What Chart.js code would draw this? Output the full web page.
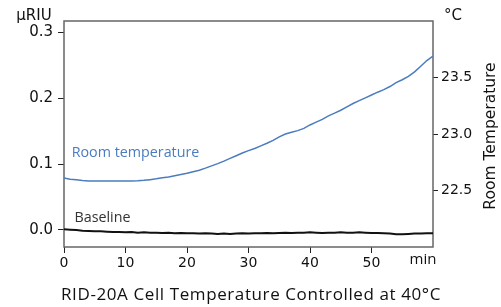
<!DOCTYPE html>
<html>
<head>
<meta charset="utf-8">
<script src="https://cdn.jsdelivr.net/npm/chart.js@4/dist/chart.umd.min.js"></script>
<style>
  html, body { margin: 0; padding: 0; background: #fff; }
  #wrap { width: 501px; height: 307px; }
</style>
</head>
<body>
<div id="wrap"><canvas id="mychart" width="501" height="307"></canvas></div>
<script>
// time in minutes
const minutes = [0,1,2,3,4,5,6,7,8,9,10,11,12,13,14,15,16,17,18,19,20,
  21,22,23,24,25,26,27,28,29,30,31,32,33,34,35,36,37,38,39,40,
  41,42,43,44,45,46,47,48,49,50,51,52,53,54,55,56,57,58,59,60]

// baseline signal, µRIU
const baseline = [0.001,0.0005,0.000,-0.001,-0.0015,-0.002,-0.002,-0.0025,-0.003,-0.003,-0.0035,
  -0.003,-0.004,-0.0035,-0.004,-0.004,-0.0045,-0.004,-0.005,-0.0045,-0.005,
  -0.005,-0.0055,-0.005,-0.0055,-0.006,-0.0055,-0.006,-0.0055,-0.005,-0.0055,
  -0.005,-0.005,-0.0045,-0.005,-0.0045,-0.004,-0.0045,-0.004,-0.004,-0.0035,
  -0.004,-0.0045,-0.004,-0.004,-0.0035,-0.004,-0.004,-0.0035,-0.004,-0.0045,
  -0.0045,-0.005,-0.0055,-0.0065,-0.0065,-0.006,-0.0055,-0.0055,-0.005,-0.005]

// room temperature, °C
const roomTemp = [22.61,22.60,22.595,22.588,22.585,22.584,22.583,22.583,22.583,22.583,22.584,
  22.585,22.586,22.590,22.596,22.603,22.612,22.620,22.630,22.641,22.652,
  22.666,22.680,22.698,22.718,22.738,22.760,22.784,22.808,22.832,22.853,
  22.872,22.895,22.918,22.943,22.975,23.000,23.015,23.030,23.050,23.080,
  23.105,23.130,23.160,23.185,23.210,23.240,23.270,23.295,23.320,23.345,
  23.370,23.393,23.420,23.455,23.480,23.510,23.550,23.600,23.650,23.690]

const xTicks = [0,10,20,30,40,50]
const leftTicks = [0,0.1,0.2,0.3]
const rightTicks = [22.5,23.0,23.5]

const sansFont = '"Open Sans", "Noto Sans", sans-serif'
const tickFont = '"DejaVu Sans", sans-serif'

// frame + free text labels
const extras = {
  id: 'extras',
  beforeDatasetsDraw(chart) {
    const ctx = chart.ctx
    const a = chart.chartArea
    ctx.save()
    ctx.strokeStyle = '#666'
    ctx.lineWidth = 1.5
    ctx.strokeRect(a.left, a.top, a.right - a.left, a.bottom - a.top)
    ctx.restore()
  },
  afterDraw(chart) {
    const ctx = chart.ctx
    const xs = chart.scales.x
    const ys = chart.scales.y
    const y1 = chart.scales.y1
    ctx.save()
    ctx.fillStyle = '#111'
    ctx.textBaseline = 'middle'
    ctx.font = '15px ' + tickFont
    ctx.textAlign = 'center'
    ctx.fillText('µRIU', 34, 16)
    ctx.fillText('°C', 453, 16)

    ctx.font = '15px ' + sansFont
    ctx.fillText('min', 423, 260)

    ctx.font = '17px ' + sansFont
    ctx.letterSpacing = '0.6px'
    ctx.fillText('RID-20A Cell Temperature Controlled at 40°C', 251, 295)
    ctx.letterSpacing = '0px'

    ctx.textAlign = 'left'
    ctx.font = '14.3px ' + sansFont
    ctx.fillStyle = '#333'
    ctx.fillText('Baseline', xs.getPixelForValue(1.7), ys.getPixelForValue(0.019))
    ctx.fillStyle = '#4a7cbf'
    ctx.fillText('Room temperature', xs.getPixelForValue(1.25), y1.getPixelForValue(22.832))

    ctx.fillStyle = '#111'
    ctx.font = '15.5px ' + tickFont
    ctx.textAlign = 'center'
    ctx.translate(491, 136)
    ctx.rotate(-Math.PI / 2)
    ctx.fillText('Room Temperature', 0, 0)
    ctx.restore()
  }
}

new Chart(document.getElementById('mychart'), {
  type: 'line',
  data: {
    labels: minutes,
    datasets: [{
      label: 'Baseline',
      data: minutes.map((m, i) => ({ x: m, y: baseline[i] })),
      yAxisID: 'y',
      borderColor: '#111',
      borderWidth: 2,
      pointRadius: 0
    }, {
      label: 'Room temperature',
      data: minutes.map((m, i) => ({ x: m, y: roomTemp[i] })),
      yAxisID: 'y1',
      borderColor: '#4a7cbf',
      borderWidth: 1.5,
      pointRadius: 0
    }]
  },
  options: {
    responsive: false,
    animation: false,
    layout: { padding: { top: 21, left: 0, right: 0, bottom: 0 } },
    plugins: { legend: { display: false }, tooltip: { enabled: false } },
    scales: {
      x: {
        type: 'linear',
        min: 0,
        max: 60,
        afterFit: s => { s.height = 60 },
        afterBuildTicks: s => { s.ticks = xTicks.map(v => ({ value: v })) },
        border: { display: false },
        grid: { drawOnChartArea: false, drawTicks: true, tickLength: 6, color: '#222' },
        ticks: { color: '#111', font: { family: tickFont, size: 14 }, padding: 2, maxRotation: 0,
          callback: v => String(v) }
      },
      y: {
        position: 'left',
        min: -0.0258,
        max: 0.3171,
        afterFit: s => { s.width = 64 },
        afterBuildTicks: s => { s.ticks = leftTicks.map(v => ({ value: v })) },
        border: { display: false },
        grid: { drawOnChartArea: false, drawTicks: true, tickLength: 6, color: '#222' },
        ticks: { color: '#111', font: { family: tickFont, size: 15 }, padding: 5,
          callback: v => v.toFixed(1) }
      },
      y1: {
        position: 'right',
        min: 22.0,
        max: 24.0,
        afterFit: s => { s.width = 68 },
        afterBuildTicks: s => { s.ticks = rightTicks.map(v => ({ value: v })) },
        border: { display: false },
        grid: { drawOnChartArea: false, drawTicks: true, tickLength: 5, color: '#222' },
        ticks: { color: '#111', font: { family: tickFont, size: 14 }, padding: 3,
          callback: v => v.toFixed(1) }
      }
    }
  },
  plugins: [extras]
})
</script>
</body>
</html>
